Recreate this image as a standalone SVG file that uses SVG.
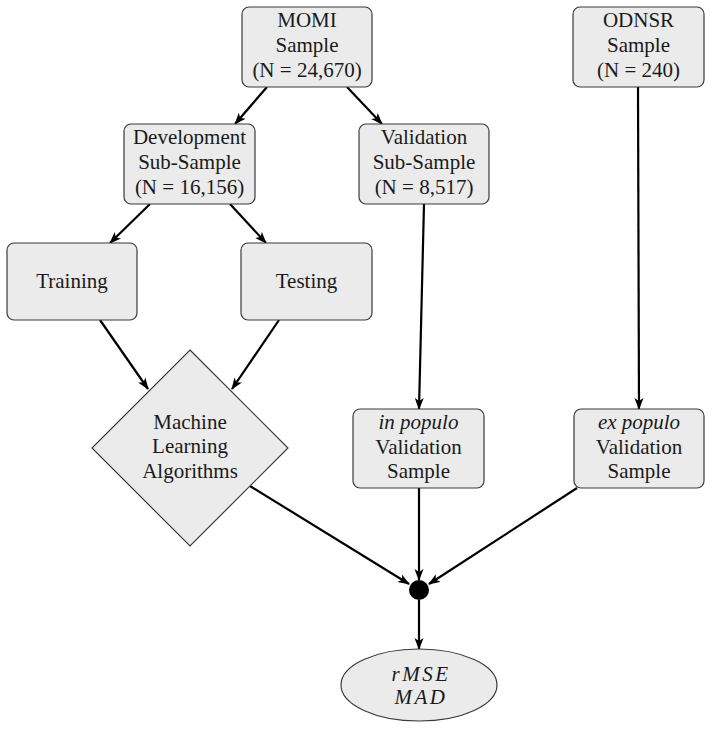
<svg xmlns="http://www.w3.org/2000/svg" width="712" height="729" viewBox="0 0 712 729">
<style>
.box{fill:#ebebeb;stroke:#3a3a3a;stroke-width:1.2}
.t{font-family:"Liberation Serif","DejaVu Serif",serif;font-size:21px;fill:#1a1a1a;text-anchor:middle}
.i{font-style:italic}
.m{font-style:italic;letter-spacing:2.5px}
.e{fill:none;stroke:#000;stroke-width:2.2;marker-end:url(#ah)}
</style>
<defs>
<marker id="ah" markerUnits="userSpaceOnUse" markerWidth="12" markerHeight="10" viewBox="0 0 12 10" refX="11" refY="5" orient="auto">
<path d="M0,0.5 L12,5 L0,9.5 L3,5 z" fill="#000"/>
</marker>
</defs>
<rect width="712" height="729" fill="#fff"/>
<g id="connectors">
<line class="e" x1="267" y1="87" x2="235" y2="124"/>
<line class="e" x1="347" y1="87" x2="382" y2="124"/>
<line class="e" x1="150" y1="204" x2="110" y2="243"/>
<line class="e" x1="230" y1="204" x2="266" y2="243"/>
<line class="e" x1="424" y1="204" x2="419" y2="409"/>
<line class="e" x1="638" y1="87" x2="639" y2="409"/>
<line class="e" x1="100" y1="320" x2="148" y2="389"/>
<line class="e" x1="279" y1="320" x2="232" y2="389"/>
<line class="e" x1="250" y1="486" x2="409" y2="584"/>
<line class="e" x1="419" y1="488" x2="419" y2="580"/>
<line class="e" x1="577" y1="488" x2="429" y2="584"/>
<line class="e" x1="419" y1="600" x2="419" y2="649"/>
</g>
<g id="momi">
<rect class="box" x="242" y="7" width="130" height="80" rx="7"/>
<text class="t" x="307" y="27">MOMI</text>
<text class="t" x="307" y="52">Sample</text>
<text class="t" x="307" y="77">(N = 24,670)</text>
</g>
<g id="odnsr">
<rect class="box" x="573" y="7" width="131" height="80" rx="7"/>
<text class="t" x="638.5" y="27">ODNSR</text>
<text class="t" x="638.5" y="52">Sample</text>
<text class="t" x="638.5" y="77">(N = 240)</text>
</g>
<g id="development">
<rect class="box" x="124" y="124" width="131" height="80" rx="7"/>
<text class="t" x="189.5" y="144">Development</text>
<text class="t" x="189.5" y="169">Sub-Sample</text>
<text class="t" x="189.5" y="194">(N = 16,156)</text>
</g>
<g id="validation">
<rect class="box" x="359" y="124" width="130" height="80" rx="7"/>
<text class="t" x="424" y="144">Validation</text>
<text class="t" x="424" y="169">Sub-Sample</text>
<text class="t" x="424" y="194">(N = 8,517)</text>
</g>
<g id="training">
<rect class="box" x="7" y="243" width="130" height="77" rx="7"/>
<text class="t" x="72" y="288">Training</text>
</g>
<g id="testing">
<rect class="box" x="241" y="243" width="131" height="77" rx="7"/>
<text class="t" x="306.5" y="288">Testing</text>
</g>
<g id="ml">
<polygon class="box" points="190,350 288,448 190,546 92,448"/>
<text class="t" x="190" y="429">Machine</text>
<text class="t" x="190" y="453">Learning</text>
<text class="t" x="190" y="478">Algorithms</text>
</g>
<g id="inpopulo">
<rect class="box" x="353" y="409" width="131" height="79" rx="7"/>
<text class="t i" x="418.5" y="429">in populo</text>
<text class="t" x="418.5" y="454">Validation</text>
<text class="t" x="418.5" y="478">Sample</text>
</g>
<g id="expopulo">
<rect class="box" x="574" y="409" width="130" height="79" rx="7"/>
<text class="t i" x="639" y="429">ex populo</text>
<text class="t" x="639" y="454">Validation</text>
<text class="t" x="639" y="478">Sample</text>
</g>
<g id="junction">
<circle cx="419" cy="590" r="10" fill="#000"/>
</g>
<g id="metrics">
<ellipse class="box" cx="419" cy="685" rx="78" ry="36"/>
<text class="t m" x="421" y="681">rMSE</text>
<text class="t m" x="421" y="704">MAD</text>
</g>
</svg>
